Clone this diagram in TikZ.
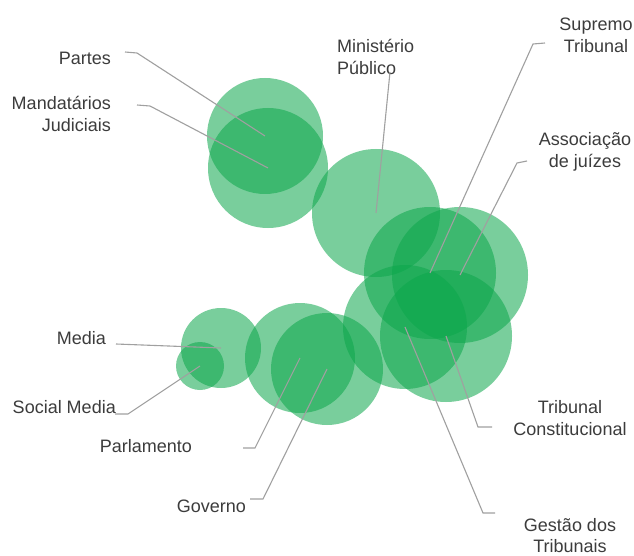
\documentclass[tikz,border=0pt]{standalone}
\usepackage{fontspec}
\setmainfont{Liberation Sans}
\definecolor{bubgreen}{RGB}{12,167,75}
\definecolor{labgray}{RGB}{60,60,60}
\definecolor{leadgray}{RGB}{160,160,160}
\begin{document}
\begin{tikzpicture}[x=1pt,y=-1pt,
  bub/.style={circle,inner sep=0pt,fill=bubgreen,fill opacity=0.55,draw=none},
  lab/.style={text=labgray,font=\fontsize{18}{22}\selectfont,inner sep=0pt},
  lead/.style={draw=leadgray,line width=1.1pt}]
\useasboundingbox[fill=white] (0,0) rectangle (634,556);
% bubbles
\node[bub,minimum size=116pt] (partes) at (265,136) {};
\node[bub,minimum size=120pt] (mand) at (268,168) {};
\node[bub,minimum size=128pt] (mp) at (376,213) {};
\node[bub,minimum size=132pt] (st) at (430,273) {};
\node[bub,minimum size=136pt] (aj) at (460,275) {};
\node[bub,minimum size=132pt] (tc) at (446,336) {};
\node[bub,minimum size=124pt] (gt) at (405,327) {};
\node[bub,minimum size=80pt] (media) at (221,348) {};
\node[bub,minimum size=48pt] (social) at (200,366) {};
\node[bub,minimum size=110pt] (parl) at (300,358) {};
\node[bub,minimum size=112pt] (gov) at (327,369) {};
% labels
\node[lab,anchor=east] (lpartes) at (111,58) {Partes};
\node[lab,anchor=east,align=right] (lmand) at (111,114) {Mandatários\\Judiciais};
\node[lab,anchor=west,align=left] (lmp) at (337,57) {Ministério\\Público};
\node[lab,align=center] (lst) at (596,35) {Supremo\\Tribunal};
\node[lab,align=center] (laj) at (585,152) {Associação\\de juízes};
\node[lab,align=center] (ltc) at (570,418) {Tribunal\\Constitucional};
\node[lab,align=center,font=\fontsize{18}{21}\selectfont] (lgt) at (570,536) {Gestão dos\\Tribunais};
\node[lab,anchor=east] (lmedia) at (106,338) {Media};
\node[lab,anchor=east] (lsocial) at (116,407) {Social Media};
\node[lab,anchor=east] (lparl) at (192,446) {Parlamento};
\node[lab,anchor=east] (lgov) at (246,506) {Governo};
% leader start points
\coordinate (cpartes) at (125,52);
\coordinate (cmand) at (137,105);
\coordinate (cmp) at (390,72);
\coordinate (cst) at (545,43);
\coordinate (caj) at (527,161);
\coordinate (ctc) at (492,427);
\coordinate (cgt) at (495,513);
\coordinate (cmedia) at (116,344);
\coordinate (csocial) at (115,414);
\coordinate (cparl) at (243,448);
\coordinate (cgov) at (250,499);
% leaders
\draw[lead] (cpartes) -- ++(12,1) -- (partes.center);
\draw[lead] (cmand) -- ++(13,1) -- (mand.center);
\draw[lead] (cmp) -- (mp.center);
\draw[lead] (cst) -- ++(-12,1) -- (st.center);
\draw[lead] (caj) -- ++(-10,2) -- (aj.center);
\draw[lead] (ctc) -- ++(-14,0) -- (tc.center);
\draw[lead] (cgt) -- ++(-12,0) -- (gt.center);
\draw[lead] (cmedia) -- (media.center);
\draw[lead] (csocial) -- ++(13,0) -- (social.center);
\draw[lead] (cparl) -- ++(12,0) -- (parl.center);
\draw[lead] (cgov) -- ++(13,0) -- (gov.center);
\end{tikzpicture}
\end{document}
